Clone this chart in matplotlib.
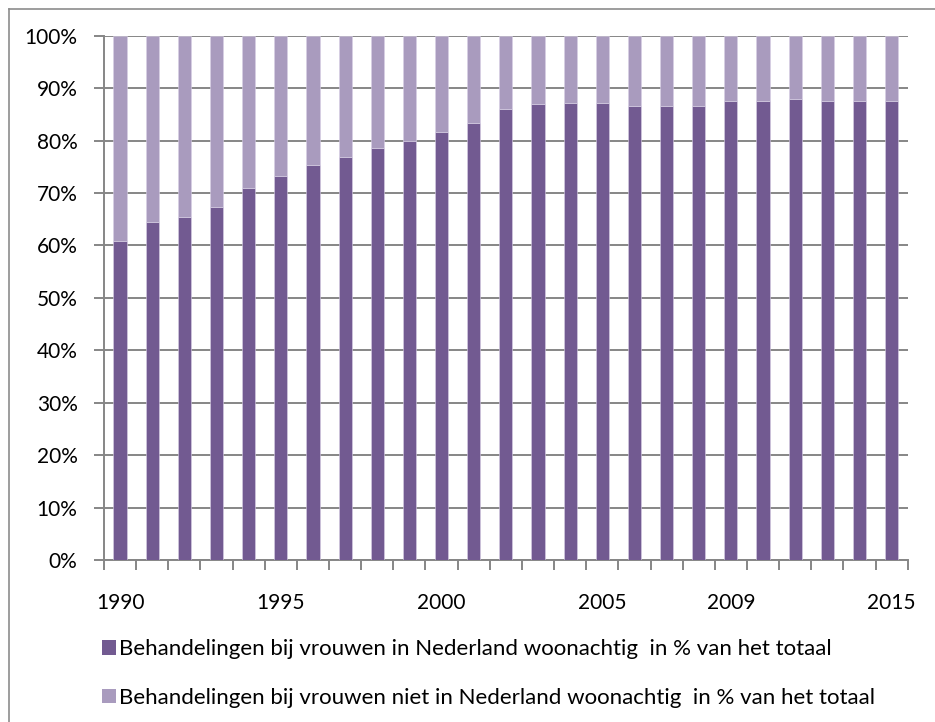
import matplotlib
matplotlib.use("Agg")
import matplotlib.pyplot as plt
from matplotlib.patches import Patch
from matplotlib.lines import Line2D

years = [str(y) for y in range(1990, 2010)] + [str(y) for y in range(2011, 2016)]
shown_labels = ["1990", "1995", "2000", "2005", "2009", "2015"]
resident = [60.8, 64.4, 65.5, 67.4, 70.9, 73.2, 75.3, 76.8, 78.5, 80.0,
            81.7, 83.3, 86.1, 86.9, 87.2, 87.2, 86.5, 86.5, 86.5, 87.5,
            87.5, 87.9, 87.5, 87.5, 87.5]
non_resident = [100 - v for v in resident]
series_names = ["Behandelingen bij vrouwen in Nederland woonachtig  in % van het totaal",
                "Behandelingen bij vrouwen niet in Nederland woonachtig  in % van het totaal"]

dark = "#725A91"
light = "#A99BBE"
grid = "#868686"

plt.rcParams['font.family'] = ['Lato', 'DejaVu Sans']

W, H = 935, 722
fig = plt.figure(figsize=(W / 100, H / 100), dpi=100)
ax = fig.add_axes([104 / W, 1 - 560 / H, (907.7 - 104) / W, (560 - 35.7) / H])

x = list(range(len(years)))
ax.bar(x, resident, width=0.41, color=dark, edgecolor="#D9D0E6", linewidth=0.4, zorder=3)
ax.bar(x, non_resident, bottom=resident, width=0.41, color=light, edgecolor="#D9D0E6",
       linewidth=0.4, zorder=3)

ax.set_xlim(-0.5, len(years) - 0.5)
ax.set_ylim(0, 100)

yt = list(range(0, 101, 10))
ax.set_yticks(yt)
ax.set_yticklabels([f"{v}%" for v in yt], fontsize=15)
ax.yaxis.grid(True, color=grid, linewidth=1.4, zorder=0)
ax.tick_params(axis='y', direction='out', length=7, width=1.4, color=grid, pad=12)

ax.set_xticks([i - 0.5 for i in range(len(years) + 1)])
ax.set_xticklabels([])
ax.tick_params(axis='x', which='major', direction='out', length=7, width=1.4, color=grid)
pos = [years.index(l) for l in shown_labels]
ax.set_xticks(pos, minor=True)
ax.set_xticklabels(shown_labels, minor=True, fontsize=15)
ax.tick_params(axis='x', which='minor', length=0, pad=24)

for s in ['top', 'right']:
    ax.spines[s].set_visible(False)
for s in ['left', 'bottom']:
    ax.spines[s].set_color(grid)
    ax.spines[s].set_linewidth(1.4)
ax.set_axisbelow(True)

# outer chart border (left and top)
fig.add_artist(Line2D([9 / W, 9 / W], [0, 1 - 9 / H], transform=fig.transFigure,
                      color="#8C8C8C", linewidth=1.2))
fig.add_artist(Line2D([9 / W, 1], [1 - 9 / H, 1 - 9 / H], transform=fig.transFigure,
                      color="#8C8C8C", linewidth=1.2))

handles = [Patch(facecolor=dark), Patch(facecolor=light)]
fig.legend(handles, series_names, loc='upper left',
           bbox_to_anchor=(93 / W, 1 - 630 / H), frameon=False, fontsize=16.0,
           handlelength=0.65, handleheight=0.65, handletextpad=0.1,
           labelspacing=1.3, borderaxespad=0)

fig.savefig("out.png", dpi=100)
